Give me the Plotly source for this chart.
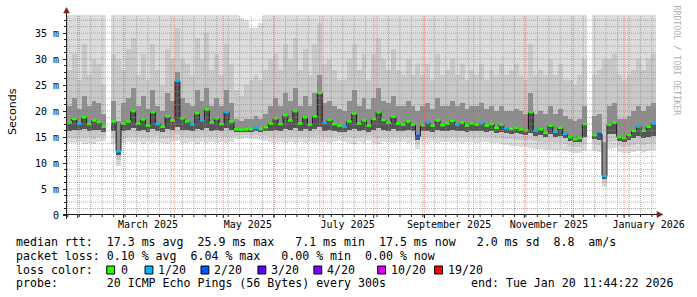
import plotly.graph_objects as go
import pandas as pd

# ---------------- data ----------------
start = pd.Timestamp("2025-01-25 11:44:22")
end = pd.Timestamp("2026-01-20 11:44:22")
step = pd.Timedelta(days=3)
n_steps = 120
times = pd.date_range(start, periods=n_steps, freq="3D")

median = [
    17.8, 18.5, 17.6, 18.8, 17.5, 18.2, 17.9, 17.0, None, 18.0,
    12.3, 17.6, 18.0, 20.0, 17.6, 18.4, 17.2, 19.8, 17.5, 17.0,
    19.0, 18.2, 25.8, 18.6, 18.0, 17.4, 19.6, 18.2, 20.3, 17.8,
    18.6, 17.5, 19.8, 18.0, 16.5, 16.4, 16.5, 16.6, 16.8, 16.6,
    16.9, 17.6, 18.6, 17.5, 19.2, 18.2, 20.0, 17.6, 18.8, 17.4,
    19.0, 23.5, 17.8, 18.3, 17.5, 17.2, 17.0, 18.0, 19.5, 17.6,
    18.2, 17.2, 18.5, 19.8, 18.3, 17.8, 18.9, 17.6, 17.4, 18.0,
    17.4, 15.2, 17.3, 17.8, 17.2, 18.2, 17.3, 17.6, 18.1, 17.4,
    17.8, 17.2, 17.6, 17.4, 17.7, 17.2, 17.5, 16.8, 17.4, 16.7,
    16.6, 16.8, 16.5, 16.3, 19.8, 16.2, 16.5, 15.8, 17.2, 16.0,
    16.8, 15.6, 15.0, 14.6, 14.8, 17.5, None, 15.4, 15.6, 7.5,
    17.4, 17.8, 15.0, 14.8, 15.4, 16.2, 17.0, 16.2, 17.0, 17.6,
]

# lost pings (out of 20) per step
loss = [
    0, 0, 1, 0, 0, 0, 0, 0, None, 0,
    1, 0, 0, 0, 0, 0, 0, 0, 1, 0,
    0, 0, 1, 0, 0, 1, 0, 1, 0, 0,
    0, 0, 1, 0, 0, 0, 0, 0, 1, 0,
    0, 0, 0, 0, 0, 0, 0, 0, 0, 0,
    0, 0, 1, 0, 0, 0, 1, 0, 0, 0,
    0, 0, 0, 0, 0, 0, 0, 0, 0, 0,
    0, 2, 0, 1, 0, 0, 0, 0, 0, 1,
    0, 0, 0, 0, 1, 0, 0, 0, 0, 1,
    0, 0, 0, 0, 0, 1, 0, 0, 0, 1,
    0, 1, 0, 0, 0, 0, None, 0, 2, 1,
    0, 0, 0, 0, 0, 0, 1, 0, 0, 1,
]

smoke_min = [
    13.9, 13.8, 14.1, 13.7, 13.9, 13.6, 14.0, 14.2, None, 13.6,
    9.5, 13.8, 14.0, 13.9, 14.1, 13.7, 14.0, 13.8, 14.1, 13.9,
    13.7, 14.0, 14.2, 13.9, 13.8, 14.1, 13.7, 14.0, 13.8, 14.1,
    13.9, 14.0, 13.8, 14.1, 14.6, 14.7, 14.8, 14.6, 14.7, 14.5,
    14.3, 14.1, 13.9, 14.0, 13.8, 14.0, 13.9, 14.1, 13.8, 14.1,
    13.9, 14.1, 14.0, 13.8, 14.1, 14.2, 14.0, 13.9, 13.7, 14.1,
    13.9, 14.2, 13.8, 13.7, 14.0, 14.1, 13.8, 14.1, 14.0, 13.9,
    14.1, 12.8, 14.0, 13.9, 14.1, 13.8, 14.1, 14.0, 13.8, 14.1,
    13.9, 14.1, 14.0, 13.9, 14.0, 14.1, 13.9, 13.8, 13.6, 13.4,
    13.3, 13.2, 13.1, 13.0, 12.9, 12.8, 12.7, 12.6, 12.5, 12.4,
    12.5, 12.3, 12.1, 11.9, 12.0, 12.4, None, 12.4, 12.1, 5.4,
    12.8, 12.9, 12.1, 11.9, 12.0, 12.2, 12.4, 12.2, 12.4, 12.5,
]

smoke_lo = [
    14.9, 14.9, 15.1, 14.8, 15.0, 14.7, 15.0, 15.2, None, 14.8,
    10.5, 14.9, 15.0, 15.1, 15.1, 14.8, 15.0, 15.0, 15.2, 14.9,
    14.9, 15.0, 15.4, 15.0, 14.9, 15.1, 14.9, 15.1, 15.0, 15.1,
    15.0, 15.1, 15.0, 15.1, 15.3, 15.4, 15.4, 15.3, 15.4, 15.3,
    15.2, 15.1, 15.0, 15.1, 15.0, 15.1, 15.1, 15.1, 15.0, 15.1,
    15.0, 15.3, 15.1, 15.0, 15.1, 15.2, 15.0, 15.0, 14.9, 15.1,
    15.0, 15.2, 15.0, 14.9, 15.1, 15.1, 15.0, 15.1, 15.1, 15.0,
    15.1, 13.6, 15.1, 15.0, 15.1, 15.0, 15.1, 15.1, 15.0, 15.1,
    15.0, 15.1, 15.0, 15.0, 15.1, 15.1, 15.0, 14.9, 14.8, 14.7,
    14.6, 14.5, 14.4, 14.3, 14.4, 14.2, 14.1, 13.9, 14.0, 13.8,
    13.9, 13.6, 13.3, 13.0, 13.1, 13.6, None, 13.6, 13.4, 6.2,
    14.1, 14.2, 13.3, 13.1, 13.3, 13.5, 13.7, 13.5, 13.7, 13.8,
]

smoke_dark_lo = [
    16.2, 16.4, 16.3, 16.5, 16.2, 16.3, 16.4, 16.0, None, 16.2,
    11.5, 16.2, 16.4, 16.8, 16.2, 16.4, 16.0, 16.6, 16.2, 15.9,
    16.5, 16.4, 17.0, 16.4, 16.3, 16.1, 16.6, 16.4, 16.8, 16.2,
    16.4, 16.1, 16.7, 16.3, 15.9, 15.9, 16.0, 16.0, 16.1, 16.0,
    16.1, 16.2, 16.4, 16.1, 16.6, 16.3, 16.8, 16.2, 16.5, 16.1,
    16.5, 17.0, 16.2, 16.4, 16.1, 16.0, 15.9, 16.3, 16.6, 16.2,
    16.4, 16.0, 16.4, 16.7, 16.4, 16.2, 16.5, 16.2, 16.1, 16.3,
    16.1, 14.5, 16.1, 16.2, 16.0, 16.4, 16.1, 16.2, 16.3, 16.1,
    16.2, 16.0, 16.2, 16.1, 16.2, 16.0, 16.1, 15.8, 16.0, 15.7,
    15.6, 15.7, 15.5, 15.4, 15.8, 15.3, 15.4, 15.0, 15.5, 15.0,
    15.3, 14.8, 14.3, 14.0, 14.1, 15.0, None, 14.6, 14.5, 7.0,
    15.5, 15.6, 14.3, 14.0, 14.4, 14.8, 15.2, 14.8, 15.1, 15.3,
]

smoke_dark_hi = [
    21.0, 22.5, 20.5, 23.0, 21.0, 22.0, 21.5, 19.5, None, 22.0,
    18.0, 21.5, 22.5, 24.5, 21.0, 23.0, 20.5, 24.0, 21.0, 20.0,
    23.5, 22.0, 27.5, 22.5, 21.5, 21.0, 24.0, 22.0, 24.5, 21.0,
    22.5, 21.0, 24.0, 21.5, 18.5, 18.0, 18.5, 18.5, 19.0, 18.5,
    19.5, 21.0, 22.5, 21.0, 23.5, 22.0, 24.5, 21.0, 23.0, 21.0,
    23.5, 27.0, 21.5, 22.0, 21.0, 20.5, 20.0, 22.0, 24.0, 21.0,
    22.5, 20.5, 22.5, 24.5, 22.0, 21.5, 23.0, 21.0, 21.0, 22.0,
    21.0, 20.0, 21.0, 21.5, 20.5, 22.5, 21.0, 21.0, 22.0, 21.0,
    21.5, 20.5, 21.0, 21.0, 21.5, 20.5, 21.0, 20.0, 21.0, 20.0,
    20.0, 20.5, 20.0, 19.5, 23.5, 19.5, 20.0, 19.5, 21.0, 19.5,
    20.5, 19.0, 18.5, 18.0, 18.5, 21.0, None, 19.0, 19.5, 14.0,
    21.0, 21.5, 18.5, 18.5, 19.0, 20.0, 21.0, 20.0, 21.0, 21.5,
]

smoke_hi = [
    28, 31, 26, 33, 27, 30, 29, 25, None, 31,
    30, 28, 32, 34, 27, 31, 26, 33, 28, 25,
    32, 30, 36, 30, 29, 27, 34, 30, 35, 28,
    31, 27, 33, 29, 24, 23, 25, 26, 27, 26,
    28, 30, 31, 28, 33, 30, 34, 28, 32, 27,
    33, 37, 29, 30, 28, 26, 26, 30, 33, 28,
    31, 26, 31, 34, 30, 28, 32, 28, 27, 30,
    27, 29, 27, 29, 26, 31, 27, 28, 30, 27,
    29, 26, 28, 27, 29, 26, 28, 27, 29, 27,
    28, 29, 27, 26, 33, 27, 28, 27, 30, 27,
    29, 26, 26, 25, 27, 30, None, 27, 28, 30,
    30, 31, 27, 26, 27, 28, 30, 28, 30, 31,
]

smoke_max = [
    40, 40, 40, 40, 40, 40, 40, 40, None, 40,
    40, 40, 40, 40, 40, 40, 40, 40, 40, 40,
    40, 40, 40, 40, 40, 40, 40, 40, 40, 40,
    40, 40, 40, 40, 38.5, 38.0, 37.5, 36.0, 36.0, 37.0,
    40, 40, 40, 40, 40, 40, 40, 40, 40, 40,
    40, 40, 40, 40, 40, 40, 40, 40, 40, 40,
    40, 40, 40, 40, 40, 40, 40, 40, 40, 40,
    40, 40, 40, 40, 40, 40, 40, 40, 40, 40,
    40, 40, 40, 40, 40, 40, 40, 40, 40, 40,
    40, 40, 40, 40, 40, 40, 40, 40, 40, 40,
    40, 40, 40, 40, 40, 40, None, 40, 40, 40,
    40, 40, 40, 40, 40, 40, 40, 40, 40, 40,
]

loss_levels = [0, 1, 2, 3, 4, 10, 19]
loss_labels = ["0", "1/20", "2/20", "3/20", "4/20", "10/20", "19/20"]
loss_colors = ["#26ff00", "#00b8ff", "#0059ff", "#5e00ff", "#7e00ff", "#dd00ff", "#ff0000"]

label_dates = ["2025-03-16", "2025-05-16", "2025-07-16", "2025-09-16", "2025-11-16", "2026-01-16"]
label_text = ["March 2025", "May 2025", "July 2025", "September 2025", "November 2025", "January 2026"]
y_tickvals = [0, 5, 10, 15, 20, 25, 30, 35]
y_ticktext = ["0", "5 m", "10 m", "15 m", "20 m", "25 m", "30 m", "35 m"]
y_max = 38.5

legend_lines = [
    "median rtt:  17.3 ms avg  25.9 ms max   7.1 ms min  17.5 ms now   2.0 ms sd  8.8  am/s",
    "packet loss: 0.10 % avg  6.04 % max   0.00 % min  0.00 % now",
]
probe_text = "probe:       20 ICMP Echo Pings (56 Bytes) every 300s"
end_text = "end: Tue Jan 20 11:44:22 2026"

# ---------------- figure ----------------
L, R, T, B, W, H = 67, 30, 15, 82, 697, 297
PW, PH = W - L - R, H - T - B


def px(x):
    return (x - L) / PW


def py(y):
    return (T + PH - y) / PH


step_ms = step.total_seconds() * 1000
fig = go.Figure()


def band(lo, hi, color):
    base = [a if (a is not None and b is not None) else None for a, b in zip(lo, hi)]
    hgt = [(b - a) if (a is not None and b is not None) else None for a, b in zip(lo, hi)]
    fig.add_trace(go.Bar(x=times, y=hgt, base=base, width=step_ms, offset=0,
                         marker=dict(color=color, line=dict(width=0)),
                         hoverinfo="skip", showlegend=False))


band(smoke_min, smoke_max, "#dcdcdc")
band(smoke_lo, smoke_hi, "#c9c9c9")
band(smoke_dark_lo, smoke_dark_hi, "#8e8e8e")
band(smoke_dark_lo, median, "#555555")

# dark step connector of the median
fig.add_trace(go.Scatter(x=list(times) + [end], y=median + [median[-1]], mode="lines",
                         line=dict(color="#1a1a1a", width=1, shape="hv"),
                         connectgaps=False, hoverinfo="skip", showlegend=False))

# median coloured by loss
for lvl, col in zip(loss_levels, loss_colors):
    xs, ys = [], []
    for t, m, l in zip(times, median, loss):
        if m is not None and l == lvl:
            xs += [t, t + step, None]
            ys += [m, m, None]
    if xs:
        fig.add_trace(go.Scatter(x=xs, y=ys, mode="lines",
                                 line=dict(color=col, width=2.5),
                                 hoverinfo="skip", showlegend=False))

shapes = []
MINOR = "rgba(143,143,143,0.7)"
MAJOR = "rgba(222,79,79,0.55)"
DOT = "1px,1px"
weeks = pd.date_range("2025-01-26", "2026-01-18", freq="7D")
months = pd.date_range("2025-02-01", "2026-01-01", freq="MS")
for k in range(1, 31):
    v = k * 1.25
    if k % 4 and v < y_max:
        shapes.append(dict(type="line", xref="paper", yref="y", x0=0, x1=1, y0=v, y1=v,
                           line=dict(color=MINOR, width=1, dash=DOT), layer="above"))
for w in weeks:
    shapes.append(dict(type="line", xref="x", yref="paper", x0=w, x1=w, y0=0, y1=1,
                       line=dict(color=MINOR, width=1, dash=DOT), layer="above"))
    shapes.append(dict(type="line", xref="x", yref="paper", x0=w, x1=w, y0=py(215), y1=py(217),
                       line=dict(color="#202020", width=1), layer="above"))
for v in y_tickvals[1:]:
    shapes.append(dict(type="line", xref="paper", yref="y", x0=0, x1=1, y0=v, y1=v,
                       line=dict(color=MAJOR, width=1, dash=DOT), layer="above"))
for m in months:
    shapes.append(dict(type="line", xref="x", yref="paper", x0=m, x1=m, y0=0, y1=1,
                       line=dict(color=MAJOR, width=1, dash=DOT), layer="above"))
    shapes.append(dict(type="line", xref="x", yref="paper", x0=m, x1=m, y0=py(215), y1=py(218),
                       line=dict(color="#202020", width=1), layer="above"))

# axes with arrows (rrdtool style)
AX = "#202020"
ARROW = "#7f1f1f"
shapes.append(dict(type="line", xref="paper", yref="paper", x0=px(63), x1=px(669),
                   y0=py(214.5), y1=py(214.5), line=dict(color=AX, width=1), layer="above"))
shapes.append(dict(type="line", xref="paper", yref="paper", x0=px(66.5), x1=px(66.5),
                   y0=py(219), y1=py(12), line=dict(color=AX, width=1), layer="above"))
shapes.append(dict(type="path", xref="paper", yref="paper",
                   path=f"M {px(668)},{py(211.5)} L {px(674)},{py(214.5)} L {px(668)},{py(217.5)} Z",
                   fillcolor=ARROW, line=dict(color=ARROW, width=0.5), layer="above"))
shapes.append(dict(type="path", xref="paper", yref="paper",
                   path=f"M {px(63.5)},{py(13)} L {px(66.5)},{py(7.5)} L {px(69.5)},{py(13)} Z",
                   fillcolor=ARROW, line=dict(color=ARROW, width=0.5), layer="above"))

annotations = []
MONO = "DejaVu Sans Mono"


def txt(s, x, y, size=11.6, family=MONO, color="#000000", xanchor="left", angle=0):
    annotations.append(dict(text=s.replace(" ", "\u00a0"), x=px(x), y=py(y), xref="paper", yref="paper",
                            xanchor=xanchor, yanchor="middle", showarrow=False, textangle=angle,
                            font=dict(family=family, size=size, color=color),
                            borderpad=0, borderwidth=0))


txt(legend_lines[0], 15, 241.7)
txt(legend_lines[1], 15, 255.7)
txt("loss color:", 15, 269.7)
box_x = [107, 146, 203, 261, 318, 383, 441]
lab_x = [122, 160, 217, 275, 332, 397, 455]
for bx, lx, lab, col in zip(box_x, lab_x, loss_labels, loss_colors):
    shapes.append(dict(type="rect", xref="paper", yref="paper", x0=px(bx + 0.5), x1=px(bx + 8.5),
                       y0=py(266), y1=py(274), fillcolor=col, line=dict(color="#000000", width=1)))
    txt(lab, lx, 269.7)
txt(probe_text, 15, 283.3)
txt(end_text, 478.4, 283.3)
txt("Seconds", 11, 112, size=11.1, family="DejaVu Sans", angle=-90, xanchor="center")
txt("RRDTOOL / TOBI OETIKER", 688, 60, size=8.3, color="#b0b0b0", angle=90, xanchor="center")

fig.update_layout(
    width=W, height=H, margin=dict(l=L, r=R, t=T, b=B),
    paper_bgcolor="#ffffff", plot_bgcolor="#ffffff",
    barmode="overlay", bargap=0, showlegend=False,
    shapes=shapes, annotations=annotations,
    xaxis=dict(type="date", range=[start, end], showgrid=False, zeroline=False, showline=False,
               ticks="", tickvals=label_dates, ticktext=label_text,
               tickfont=dict(family=MONO, size=10, color="#000000"), ticklabelstandoff=2),
    yaxis=dict(range=[0, y_max], showgrid=False, zeroline=False, showline=False,
               tickvals=y_tickvals, ticktext=y_ticktext, ticks="outside", ticklen=3,
               tickcolor=AX, tickwidth=1,
               tickfont=dict(family=MONO, size=10, color="#000000"), ticklabelstandoff=2,
               minor=dict(ticks="outside", ticklen=2, dtick=1.25, tick0=0, tickcolor=AX,
                          tickwidth=1, showgrid=False)),
)

fig.write_html("out.html")
